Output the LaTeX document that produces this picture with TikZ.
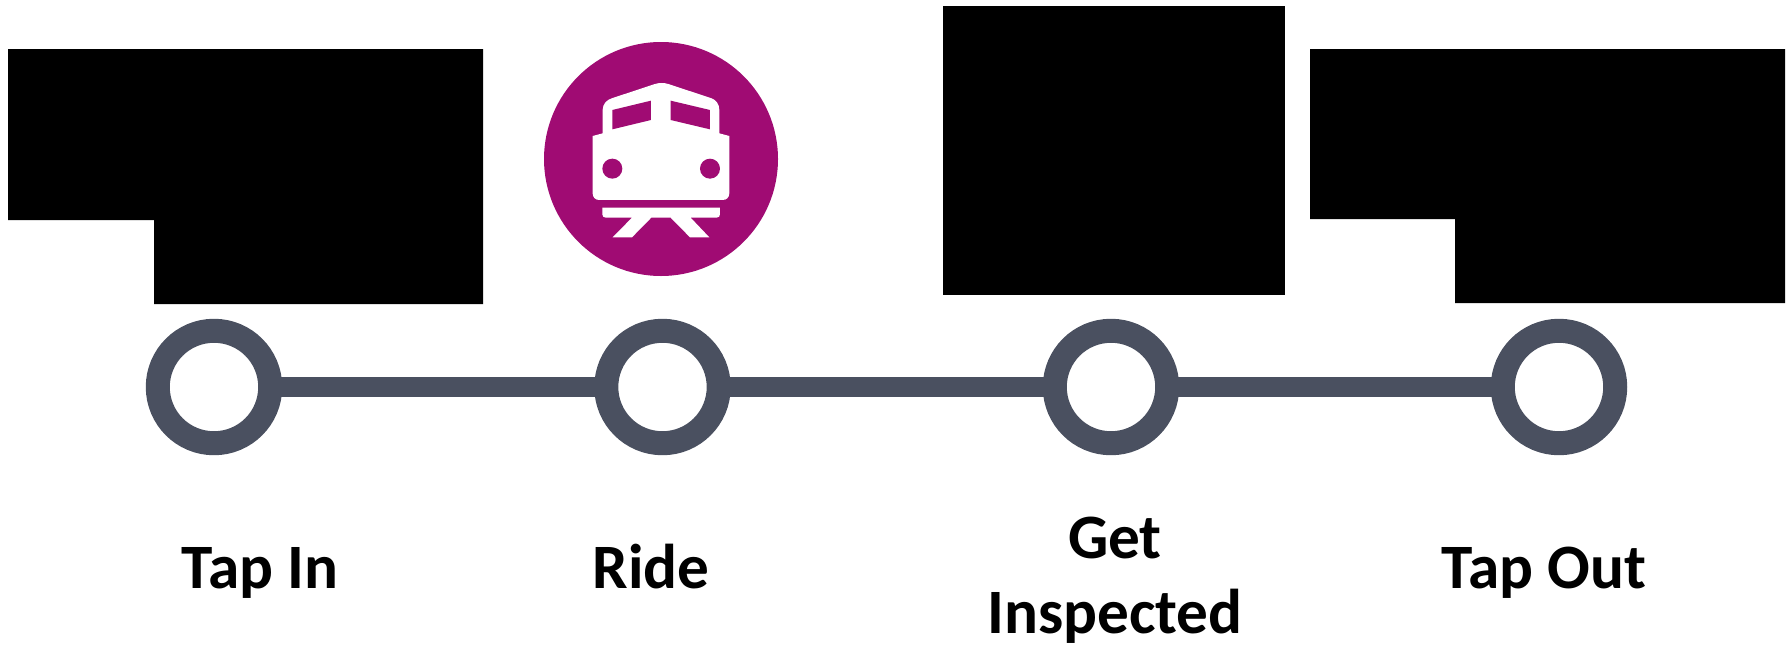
\documentclass[tikz,border=0pt]{standalone}
\usepackage{fontspec}
\setmainfont[Ligatures = NoCommon]{Carlito}
\definecolor{ringgray}{RGB}{74,80,96}
\definecolor{trainpurple}{RGB}{160,11,115}
\tikzset{
	stopring/.style = {circle, draw = ringgray, fill = white, line width = 13.66pt, minimum size = 64pt, inner sep = 0pt},
	stopline/.style = {ringgray, line width = 11pt, shorten > = -4pt, shorten < = -4pt},
	stoplabel/.style = {font = \fontsize{36}{43}\selectfont\bfseries, align = center}
}
\begin{document}
\begin{tikzpicture}[x = 0.02cm, y = -0.02cm]
	\useasboundingbox (0,0) rectangle (1789,646);
	% black blocks
	\fill[black] (8,49) -- (483,49) -- (483,304) -- (154,304) -- (154,220) -- (8,220) -- cycle;
	\fill[black] (943,6) rectangle (1285,295);
	\fill[black] (1310,49) -- (1785,49) -- (1785,303) -- (1455,303) -- (1455,219) -- (1310,219) -- cycle;
	% train icon
	\fill[trainpurple] (661,159) circle (117);
	\begin{scope}[shift = {(530,30)}, scale = 0.3333]
		\fill[white] (218,310) -- (218,240) .. controls (218,222) and (230,210) .. (245,205) -- (375,162) .. controls (388,158) and (402,158) .. (415,162) -- (545,205) .. controls (558,210) and (568,222) .. (568,240) -- (568,310) -- (598,318) -- (598,490) .. controls (598,502) and (590,510) .. (578,510) -- (208,510) .. controls (196,510) and (188,502) .. (188,490) -- (188,318) -- cycle;
		\fill[trainpurple] (247,240) -- (363,212) -- (363,270) -- (247,298) -- cycle;
		\fill[trainpurple] (422,212) -- (540,240) -- (540,298) -- (422,270) -- cycle;
		\fill[trainpurple] (247,416) circle (30);
		\fill[trainpurple] (540,416) circle (30);
		\fill[white] (217,533) -- (570,533) -- (570,553) .. controls (570,559) and (566,563) .. (560,563) -- (482,563) -- (538,622) -- (480,622) -- (422,563) -- (364,563) -- (306,622) -- (248,622) -- (306,563) -- (227,563) .. controls (221,563) and (217,559) .. (217,553) -- cycle;
	\end{scope}
	% stops
	\node[stopring] (tapin) at (214,387){};
	\node[stopring] (ride) at (662.5,387){};
	\node[stopring] (inspect) at (1111,387){};
	\node[stopring] (tapout) at (1559,387){};
	\draw[stopline] (tapin) -- (ride);
	\draw[stopline] (ride) -- (inspect);
	\draw[stopline] (inspect) -- (tapout);
	% labels
	\node[stoplabel] (tapinlabel) at (260,573){Tap In};
	\node[stoplabel] (ridelabel) at (651,567){Ride};
	\node[stoplabel] (inspectlabel) at (1115,580){Get\\Inspected};
	\node[stoplabel] (tapoutlabel) at (1544,573){Tap Out};
\end{tikzpicture}
\end{document}
